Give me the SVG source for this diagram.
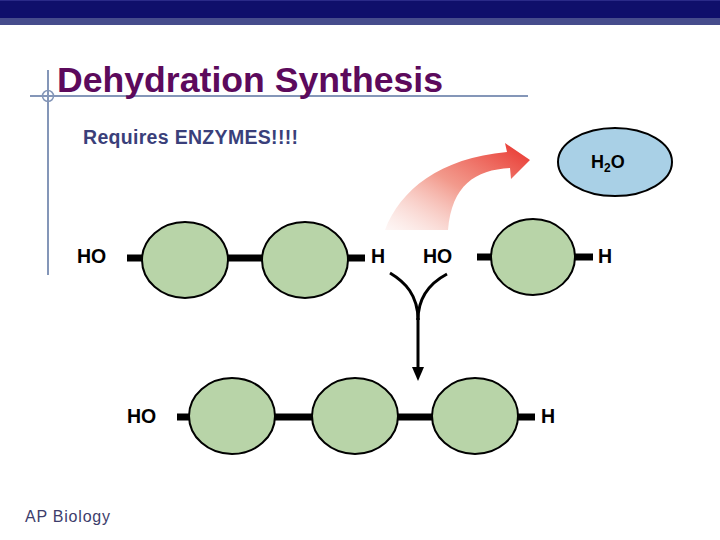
<svg xmlns="http://www.w3.org/2000/svg" width="720" height="540" viewBox="0 0 720 540">
<defs>
<style>
.mono{fill:#b8d4a8;stroke:#000;stroke-width:2}
.bond{stroke:#000;stroke-width:7;fill:none}
.lbl{font-family:"Liberation Sans",Arial,sans-serif;font-weight:bold;font-size:19.5px;fill:#000}
.arr{stroke:#000;stroke-width:3;fill:none}
</style>
<linearGradient id="redg" x1="0" y1="1" x2="1" y2="0">
<stop offset="0" stop-color="#f6c8c0" stop-opacity="0.15"/>
<stop offset="0.5" stop-color="#f08878" stop-opacity="0.85"/>
<stop offset="1" stop-color="#e8302a"/>
</linearGradient>
</defs>
<rect width="720" height="540" fill="#fff"/>
<g id="header">
<rect x="0" y="0" width="720" height="18" fill="#0f0f6b"/>
<rect x="0" y="0" width="720" height="1" fill="#2a2a88"/>
<rect x="0" y="18" width="720" height="7" fill="#464c8c"/>
<line x1="30" y1="96" x2="528" y2="96" stroke="#8496b8" stroke-width="2"/>
<line x1="48" y1="70" x2="48" y2="275" stroke="#8496b8" stroke-width="2"/>
<circle cx="48" cy="96" r="5.5" fill="none" stroke="#8496b8" stroke-width="1.5"/>
<text x="57" y="92" font-family="'Liberation Sans',Arial,sans-serif" font-weight="bold" font-size="35" fill="#5c0a5c" textLength="386" lengthAdjust="spacingAndGlyphs">Dehydration Synthesis</text>
<text x="83" y="144" font-family="'Liberation Sans',Arial,sans-serif" font-weight="bold" font-size="19.5" fill="#3a3f7a" textLength="215">Requires ENZYMES!!!!</text>
<text x="25" y="522" font-family="'Liberation Sans',Arial,sans-serif" font-size="16" fill="#3d3d6b" textLength="85">AP Biology</text>
</g>
<g id="connectors">
<line class="bond" x1="127" y1="258" x2="365" y2="258"/>
<line class="bond" x1="477" y1="257" x2="593" y2="257"/>
<line class="bond" x1="177" y1="417" x2="535" y2="417"/>
<path d="M385,230 C400,190 440,158 507,152 L505,143 L530,160 L511,179 L510,168 C475,170 452,185 448,230 Z" fill="url(#redg)"/>
<path class="arr" d="M390,273 C405,282 418,295 418,320"/>
<path class="arr" d="M447,274 C432,282 418,295 418,320"/>
<line class="arr" x1="418" y1="318" x2="418" y2="370"/>
<polygon points="412,367 424,367 418,381" fill="#000"/>
</g>
<g id="water">
<ellipse cx="615" cy="162" rx="57" ry="34" fill="#a9d0e6" stroke="#000" stroke-width="2"/>
<text x="591" y="168" font-family="'Liberation Sans',Arial,sans-serif" font-weight="bold" font-size="18" fill="#000">H<tspan font-size="12" dy="4">2</tspan><tspan dy="-4">O</tspan></text>
</g>
<g id="molecule-left">
<ellipse class="mono" cx="185" cy="260" rx="43" ry="38"/>
<ellipse class="mono" cx="305" cy="260" rx="43" ry="38"/>
<text class="lbl" x="77" y="263">HO</text>
<text class="lbl" x="371" y="263">H</text>
</g>
<g id="molecule-right">
<ellipse class="mono" cx="533" cy="257" rx="42" ry="38"/>
<text class="lbl" x="423" y="263">HO</text>
<text class="lbl" x="598" y="263">H</text>
</g>
<g id="molecule-product">
<ellipse class="mono" cx="232" cy="416" rx="43" ry="38"/>
<ellipse class="mono" cx="355" cy="416" rx="43" ry="38"/>
<ellipse class="mono" cx="475" cy="416" rx="43" ry="38"/>
<text class="lbl" x="127" y="423">HO</text>
<text class="lbl" x="541" y="423">H</text>
</g>
</svg>
